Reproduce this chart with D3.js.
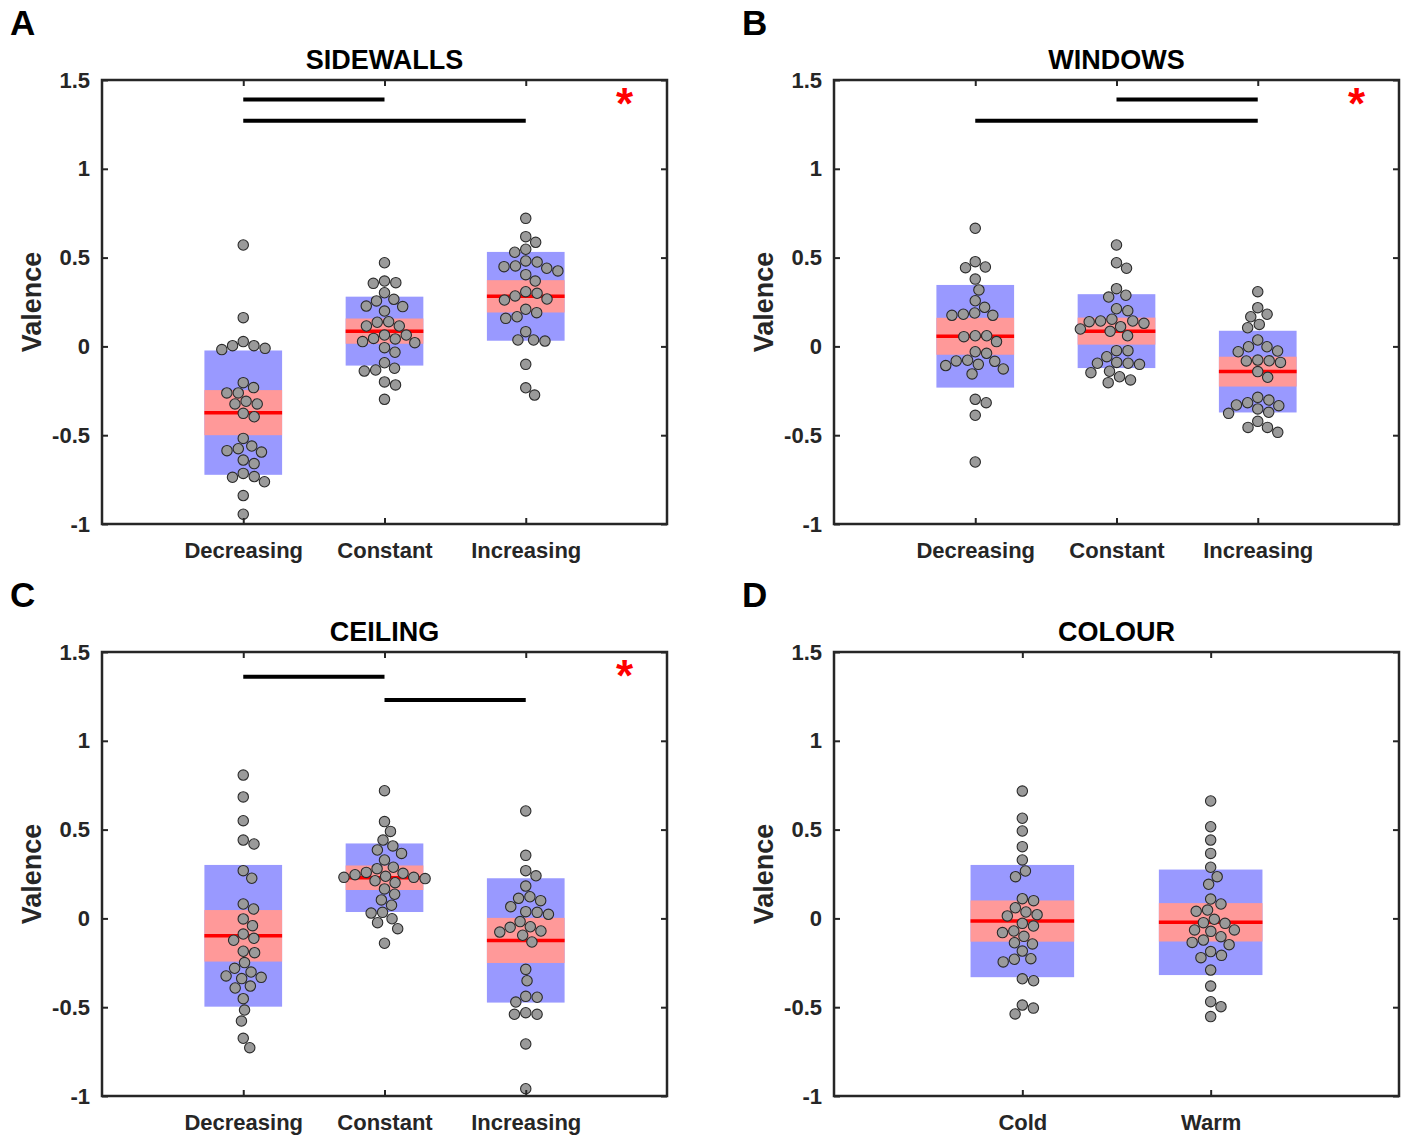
<!DOCTYPE html>
<html>
<head>
<meta charset="utf-8">
<script src="https://cdn.jsdelivr.net/npm/d3@7"></script>
<style>
  body { margin: 0; background: #fff; }
  text { font-family: "Liberation Sans", Arial, sans-serif; font-weight: bold; }
</style>
</head>
<body>
<svg id="chart" width="1405" height="1136"></svg>
<script>
// categories and ticks
const threeLevels = ['Decreasing', 'Constant', 'Increasing'];
const colourLevels = ['Cold', 'Warm'];
const yTicks = [-1, -0.5, 0, 0.5, 1, 1.5];

// valence ratings, one array per group
const sidewallsDecreasing = [0.571, 0.162, 0.004, 0.027, -0.018, -0.011, 0.004, -0.232, -0.204, -0.262, -0.262, -0.309, -0.324, -0.324, -0.396, -0.377, -0.518, -0.576, -0.561, -0.595, -0.587, -0.640, -0.660, -0.715, -0.737, -0.733, -0.762, -0.840, -0.945];
const sidewallsConstant = [0.471, 0.368, 0.359, 0.355, 0.302, 0.265, 0.256, 0.227, 0.224, 0.199, 0.136, 0.139, 0.115, 0.115, 0.027, 0.045, 0.042, 0.021, 0.064, 0.064, -0.007, -0.033, -0.092, -0.139, -0.133, -0.123, -0.217, -0.200, -0.298];
const sidewallsIncreasing = [0.721, 0.618, 0.586, 0.547, 0.530, 0.481, 0.475, 0.425, 0.449, 0.440, 0.453, 0.404, 0.368, 0.299, 0.308, 0.284, 0.261, 0.267, 0.209, 0.190, 0.158, 0.167, 0.083, 0.036, 0.036, 0.030, -0.101, -0.233, -0.274];

const windowsDecreasing = [0.665, 0.477, 0.443, 0.447, 0.379, 0.318, 0.257, 0.220, 0.181, 0.188, 0.175, 0.175, 0.060, 0.060, 0.055, 0.027, -0.030, -0.039, -0.078, -0.108, -0.084, -0.155, -0.127, -0.101, -0.082, -0.298, -0.317, -0.388, -0.651];
const windowsConstant = [0.571, 0.471, 0.440, 0.325, 0.278, 0.288, 0.201, 0.212, 0.130, 0.153, 0.139, 0.143, 0.143, 0.111, 0.085, 0.098, 0.060, -0.024, -0.024, -0.058, -0.101, -0.095, -0.090, -0.095, -0.140, -0.148, -0.189, -0.204, -0.171];
const windowsIncreasing = [0.308, 0.218, 0.181, 0.167, 0.124, 0.105, 0.036, -0.002, -0.002, -0.030, -0.026, -0.090, -0.081, -0.077, -0.082, -0.142, -0.174, -0.334, -0.317, -0.302, -0.287, -0.330, -0.371, -0.352, -0.377, -0.422, -0.456, -0.456, -0.484];

const ceilingDecreasing = [0.807, 0.684, 0.550, 0.419, 0.441, 0.269, 0.226, 0.081, 0.053, -0.003, -0.041, -0.112, -0.088, -0.123, -0.193, -0.185, -0.249, -0.281, -0.302, -0.339, -0.332, -0.324, -0.392, -0.381, -0.452, -0.516, -0.578, -0.675, -0.728];
const ceilingConstant = [0.719, 0.545, 0.490, 0.441, 0.408, 0.385, 0.366, 0.329, 0.288, 0.280, 0.246, 0.259, 0.231, 0.224, 0.231, 0.254, 0.237, 0.212, 0.201, 0.166, 0.136, 0.104, 0.074, 0.030, 0.034, -0.002, -0.024, -0.058, -0.140];
const ceilingIncreasing = [0.605, 0.355, 0.269, 0.240, 0.182, 0.122, 0.100, 0.113, 0.066, 0.034, 0.038, 0.023, -0.018, -0.047, -0.077, -0.071, -0.050, -0.095, -0.133, -0.287, -0.351, -0.444, -0.471, -0.439, -0.540, -0.540, -0.531, -0.707, -0.959];

const colourCold = [0.717, 0.564, 0.492, 0.404, 0.329, 0.267, 0.235, 0.111, 0.100, 0.060, 0.036, 0.014, 0.021, -0.028, -0.071, -0.043, -0.080, -0.101, -0.137, -0.144, -0.184, -0.245, -0.227, -0.230, -0.351, -0.340, -0.488, -0.505, -0.538];
const colourWarm = [0.661, 0.516, 0.441, 0.366, 0.288, 0.235, 0.192, 0.109, 0.081, 0.047, 0.040, -0.024, -0.005, -0.028, -0.065, -0.065, -0.073, -0.103, -0.122, -0.135, -0.148, -0.187, -0.208, -0.221, -0.291, -0.381, -0.469, -0.497, -0.553];

// summary boxes: mean, SD (blue) and 95% CI (pink) half widths
const sidewallsMean = [-0.373, 0.086, 0.282];
const sidewallsSD = [0.350, 0.194, 0.250];
const sidewallsCI = [0.127, 0.071, 0.091];
const windowsMean = [0.057, 0.086, -0.142];
const windowsSD = [0.289, 0.208, 0.230];
const windowsCI = [0.104, 0.076, 0.084];
const ceilingMean = [-0.098, 0.229, -0.124];
const ceilingSD = [0.399, 0.193, 0.350];
const ceilingCI = [0.145, 0.069, 0.127];
const colourMean = [-0.015, -0.022];
const colourSD = [0.316, 0.297];
const colourCI = [0.116, 0.108];

// significance bars: [from group, to group, height]
const sidewallsSig = [[1, 2, 1.39], [1, 3, 1.27]];
const windowsSig = [[2, 3, 1.39], [1, 3, 1.27]];
const ceilingSig = [[1, 2, 1.36], [2, 3, 1.23]];
const colourSig = [];

const panels = [
    { letter: 'A', title: 'SIDEWALLS', cats: threeLevels, left: 102, top: 80,
      values: [sidewallsDecreasing, sidewallsConstant, sidewallsIncreasing],
      mean: sidewallsMean, sd: sidewallsSD, ci: sidewallsCI, sig: sidewallsSig, star: true },
    { letter: 'B', title: 'WINDOWS', cats: threeLevels, left: 834, top: 80,
      values: [windowsDecreasing, windowsConstant, windowsIncreasing],
      mean: windowsMean, sd: windowsSD, ci: windowsCI, sig: windowsSig, star: true },
    { letter: 'C', title: 'CEILING', cats: threeLevels, left: 102, top: 652,
      values: [ceilingDecreasing, ceilingConstant, ceilingIncreasing],
      mean: ceilingMean, sd: ceilingSD, ci: ceilingCI, sig: ceilingSig, star: true },
    { letter: 'D', title: 'COLOUR', cats: colourLevels, left: 834, top: 652,
      values: [colourCold, colourWarm],
      mean: colourMean, sd: colourSD, ci: colourCI, sig: colourSig, star: false }
];

const plotW = 565;
const plotH = 444;
const boxWidth = 0.55;   // in category units
const dotR = 5.2;
const axisColor = '#262626';

const svg = d3.select('#chart');

// simple beeswarm: place each point as close to the centre as it can go
function swarm(ys, minDist) {
    const order = d3.range(ys.length).sort((a, b) => ys[a] - ys[b]);
    const placed = [];
    const offs = new Array(ys.length);
    order.forEach(i => {
        const yi = ys[i];
        const near = placed.filter(p => Math.abs(p.y - yi) < minDist);
        const cands = [0];
        near.forEach(p => {
            const dx = Math.sqrt(minDist * minDist - (p.y - yi) ** 2);
            cands.push(p.x + dx, p.x - dx);
        });
        cands.sort((a, b) => Math.abs(a) - Math.abs(b));
        const x = cands.find(c => near.every(p => (p.x - c) ** 2 + (p.y - yi) ** 2 >= minDist * minDist - 1e-6));
        placed.push({ x: x, y: yi });
        offs[i] = x;
    });
    return offs;
}

function drawPanel(p) {
    const g = svg.append('g').attr('transform', `translate(${p.left},${p.top})`);
    const n = p.cats.length;

    const x = d3.scaleLinear().domain([0, n + 1]).range([0, plotW]);
    const y = d3.scaleLinear().domain([-1, 1.5]).range([plotH, 0]);
    const catIdx = d3.range(1, n + 1);

    // boxes: SD, CI, mean
    p.cats.forEach((c, i) => {
        const cx = i + 1;
        g.append('rect')
            .attr('x', x(cx - boxWidth / 2))
            .attr('width', x(cx + boxWidth / 2) - x(cx - boxWidth / 2))
            .attr('y', y(p.mean[i] + p.sd[i]))
            .attr('height', y(p.mean[i] - p.sd[i]) - y(p.mean[i] + p.sd[i]))
            .attr('fill', '#9999ff');
        g.append('rect')
            .attr('x', x(cx - boxWidth / 2))
            .attr('width', x(cx + boxWidth / 2) - x(cx - boxWidth / 2))
            .attr('y', y(p.mean[i] + p.ci[i]))
            .attr('height', y(p.mean[i] - p.ci[i]) - y(p.mean[i] + p.ci[i]))
            .attr('fill', '#ff9999');
        g.append('line')
            .attr('x1', x(cx - boxWidth / 2))
            .attr('x2', x(cx + boxWidth / 2))
            .attr('y1', y(p.mean[i]))
            .attr('y2', y(p.mean[i]))
            .attr('stroke', '#ff0000')
            .attr('stroke-width', 3.5);
    });

    // raw points
    p.values.forEach((vals, i) => {
        const ys = vals.map(v => y(v));
        const offs = swarm(ys, dotR * 2.2);
        g.append('g').selectAll('circle')
            .data(vals)
            .join('circle')
            .attr('cx', (d, k) => x(i + 1) + offs[k])
            .attr('cy', d => y(d))
            .attr('r', dotR)
            .attr('fill', '#9a9a9a')
            .attr('stroke', '#2b2b2b')
            .attr('stroke-width', 1.1);
    });

    // significance bars
    g.append('g').selectAll('line')
        .data(p.sig)
        .join('line')
        .attr('x1', d => x(d[0]))
        .attr('x2', d => x(d[1]))
        .attr('y1', d => y(d[2]))
        .attr('y2', d => y(d[2]))
        .attr('stroke', '#000')
        .attr('stroke-width', 4);

    if (p.star) {
        g.append('text')
            .attr('x', x(3.7))
            .attr('y', y(1.40) + 21)
            .attr('text-anchor', 'middle')
            .attr('font-size', 44)
            .attr('fill', '#ff0000')
            .text('*');
    }

    // axes, ticks pointing inward on all four sides
    const fmt = d => String(d);
    const left = g.append('g').call(d3.axisLeft(y).tickValues(yTicks).tickFormat(fmt).tickSize(-6).tickPadding(12));
    const bottom = g.append('g').attr('transform', `translate(0,${plotH})`)
        .call(d3.axisBottom(x).tickValues(catIdx).tickFormat(d => p.cats[d - 1]).tickSize(-6).tickPadding(18));
    const right = g.append('g').attr('transform', `translate(${plotW},0)`)
        .call(d3.axisRight(y).tickValues(yTicks).tickFormat('').tickSize(-6));
    const topAx = g.append('g')
        .call(d3.axisTop(x).tickValues(catIdx).tickFormat('').tickSize(-6));

    [left, bottom, right, topAx].forEach(a => {
        a.select('.domain').remove();
        a.selectAll('line').attr('stroke', axisColor).attr('stroke-width', 2);
        a.selectAll('text')
            .attr('font-size', 22)
            .attr('font-family', '"Liberation Sans", Arial, sans-serif')
            .attr('font-weight', 'bold')
            .attr('fill', axisColor);
    });

    g.append('rect')
        .attr('width', plotW)
        .attr('height', plotH)
        .attr('fill', 'none')
        .attr('stroke', axisColor)
        .attr('stroke-width', 2.5);

    // labels
    g.append('text')
        .attr('x', plotW / 2)
        .attr('y', -11)
        .attr('text-anchor', 'middle')
        .attr('font-size', 27)
        .attr('fill', '#000')
        .text(p.title);

    g.append('text')
        .attr('transform', `translate(-61,${plotH / 2}) rotate(-90)`)
        .attr('text-anchor', 'middle')
        .attr('font-size', 27)
        .attr('fill', axisColor)
        .text('Valence');

    svg.append('text')
        .attr('x', p.left - 92)
        .attr('y', p.top - 45)
        .attr('font-size', 35)
        .attr('fill', '#000')
        .text(p.letter);
}

panels.forEach(drawPanel);
</script>
</body>
</html>
